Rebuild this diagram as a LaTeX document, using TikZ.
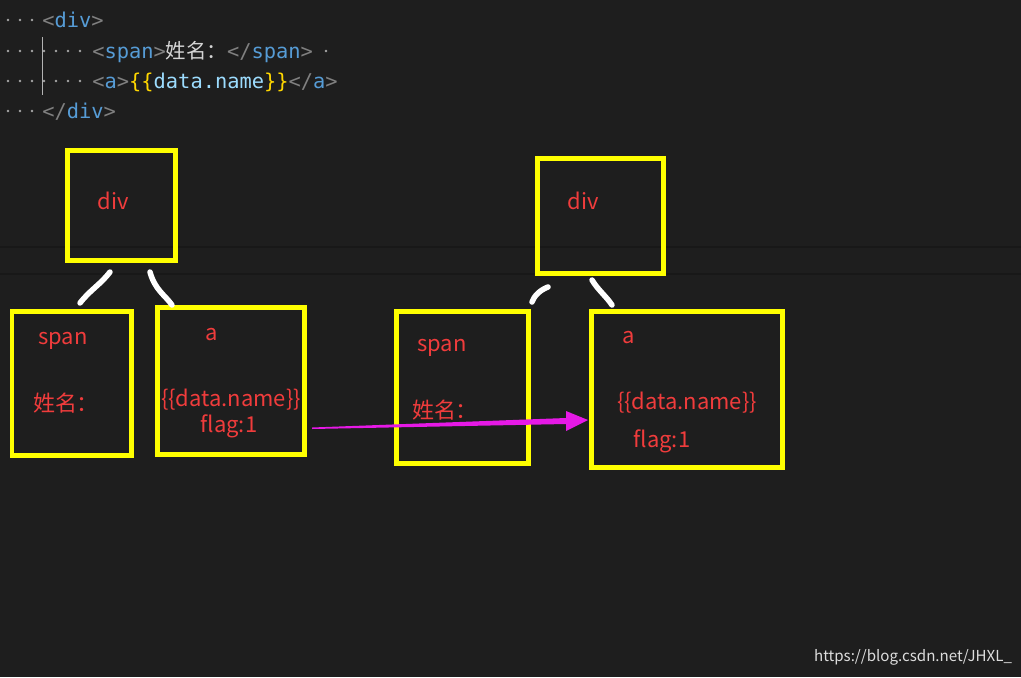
\documentclass[tikz,border=0pt]{standalone}
\usepackage{fontspec}
\setmainfont{Noto Sans CJK SC}
\newfontfamily\codef{DejaVu Sans Mono}
\newfontfamily\cjk{Noto Sans CJK SC}
\usetikzlibrary{arrows.meta}
\definecolor{bg}{HTML}{1E1E1E}
\definecolor{tagc}{HTML}{569CD6}
\definecolor{brk}{HTML}{808080}
\definecolor{yel}{HTML}{FFFF00}
\definecolor{lbl}{HTML}{F03C3C}
\definecolor{brace}{HTML}{FFD700}
\definecolor{var}{HTML}{9CDCFE}
\definecolor{txt}{HTML}{D4D4D4}
\definecolor{mag}{HTML}{E619E6}
\begin{document}
\begin{tikzpicture}[x=0.02cm,y=-0.02cm,
  box/.style={draw=yel,line width=0.1cm},
  lab/.style={text=lbl,font=\fontsize{12.5}{14}\selectfont,inner sep=0,yshift=-0.08cm},
  code/.style={anchor=base west,inner sep=0,font=\codef\fontsize{11.6}{13}\selectfont},
  stroke/.style={draw=white,line width=0.11cm,line cap=round}]
\fill[bg] (0,0) rectangle (1021,677);
\useasboundingbox (0,0) rectangle (1021,677);
\draw[black!20!bg,line width=1.2pt] (0,247) -- (1021,247) (0,274) -- (1021,274);
% code
\foreach \y/\n in {20/3,51/7,81/7,111/3}{\foreach \i in {1,...,\n}{\fill[brk!70] ({-4+12*\i},\y) circle (1.3);}}
\fill[brk!70] (326,51) circle (1.3);
\draw[brk!60] (42,37) -- (42,95);
\node[code] (l1) at (42,27) {\textcolor{brk}{<}\textcolor{tagc}{div}\textcolor{brk}{>}};
\node[code] (l2) at (92,58) {\textcolor{brk}{<}\textcolor{tagc}{span}\textcolor{brk}{>}\textcolor{txt}{\cjk 姓名：}\textcolor{brk}{</}\textcolor{tagc}{span}\textcolor{brk}{>}};
\node[code] (l3) at (92,88) {\textcolor{brk}{<}\textcolor{tagc}{a}\textcolor{brk}{>}\textcolor{brace}{\{\{}\textcolor{var}{data.name}\textcolor{brace}{\}\}}\textcolor{brk}{</}\textcolor{tagc}{a}\textcolor{brk}{>}};
\node[code] (l4) at (42,118) {\textcolor{brk}{</}\textcolor{tagc}{div}\textcolor{brk}{>}};
% boxes
\draw[box] (67,150) rectangle (175,260);
\draw[box] (537,158) rectangle (663,273);
\draw[box] (12,311) rectangle (131,455);
\draw[box] (157,307) rectangle (304,454);
\draw[box] (396,311) rectangle (528,463);
\draw[box] (591,311) rectangle (782,467);
% labels
\node[lab] (d1) at (113,197) {div};
\node[lab] (s1) at (63,337) {span};
\node[lab] (n1) at (66,399) {姓名：};
\node[lab] (a1) at (212,331) {a};
\node[lab] (dn1) at (231,396) {\{\{data.name\}\}};
\node[lab] (f1) at (229,422) {flag:1};
\node[lab] (d2) at (583,197) {div};
\node[lab] (s2) at (442,344) {span};
\node[lab] (n2) at (445,406) {姓名：};
\node[lab] (a2) at (629,334) {a};
\node[lab] (dn2) at (687,399) {\{\{data.name\}\}};
\node[lab] (f2) at (662,437) {flag:1};
% white strokes
\draw[stroke] (110,272) .. controls (100,285) and (90,290) .. (80,303);
\draw[stroke] (150,272) .. controls (155,290) and (165,295) .. (172,305);
\draw[stroke] (548,287) .. controls (540,290) and (534,296) .. (532,302);
\draw[stroke] (592,280) .. controls (598,290) and (606,296) .. (612,305);
% arrow
\fill[mag] (312,427.5) -- (566,418) -- (566,411) -- (588,420) -- (566,431) -- (566,424) -- (312,429) -- cycle;
\node[text=white!85!bg,font=\fontsize{8.6}{10}\selectfont,inner sep=0] (wm) at (913,657) {https://blog.csdn.net/JHXL\_};
\end{tikzpicture}
\end{document}
